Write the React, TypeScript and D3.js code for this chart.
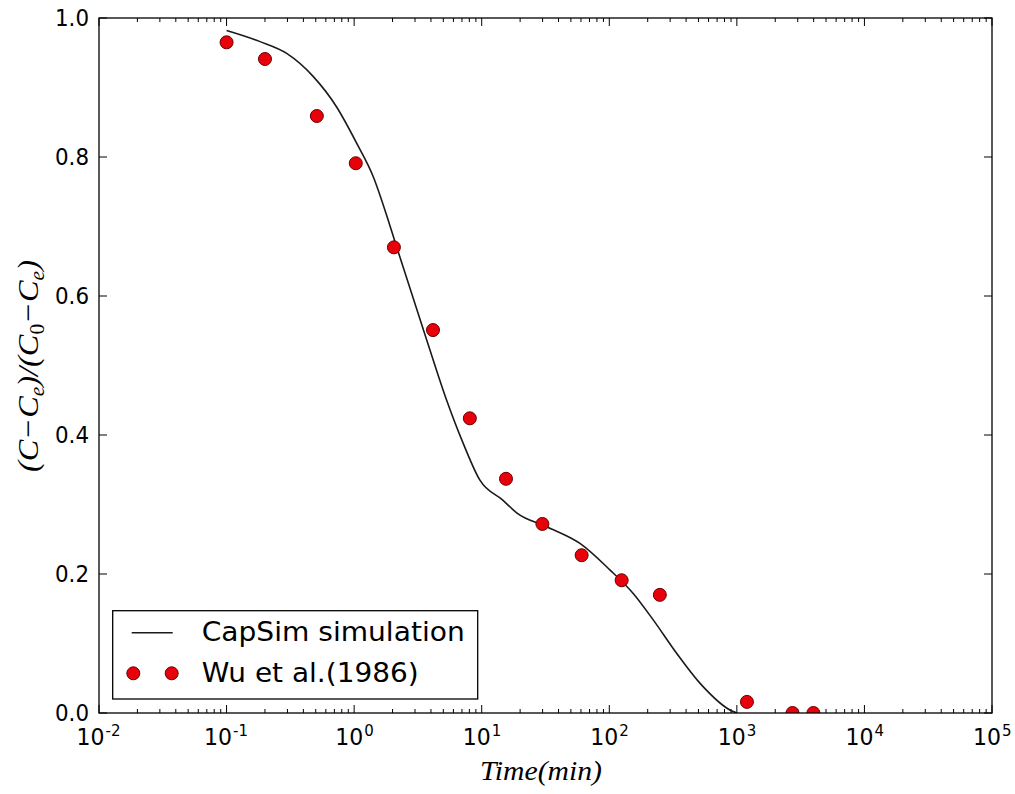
import React from "react";
import * as d3 from "d3";

// Simulation curve (CapSim)
const simTime = [0.1, 0.183, 0.296, 0.477, 0.729, 1.046, 1.41, 1.85, 2.15, 3.7, 5.31, 7.16, 9.68, 14.7, 18.8, 32.3, 58.9, 101, 154, 221, 337, 513, 935, 1000];
const simValue = [0.982, 0.966, 0.949, 0.916, 0.872, 0.82, 0.772, 0.709, 0.671, 0.537, 0.45, 0.388, 0.335, 0.306, 0.288, 0.268, 0.244, 0.206, 0.172, 0.134, 0.086, 0.043, 0.002, 0.0];

// Experimental data (Wu et al. 1986)
const obsTime = [0.1, 0.2, 0.51, 1.03, 2.05, 4.15, 8.07, 15.5, 29.9, 60.7, 125, 249, 1200, 2730, 3980];
const obsValue = [0.965, 0.941, 0.859, 0.791, 0.67, 0.551, 0.424, 0.337, 0.272, 0.227, 0.191, 0.17, 0.016, 0.0, 0.0];

const yTicks = [0, 0.2, 0.4, 0.6, 0.8, 1.0];
const xExponents = [-2, -1, 0, 1, 2, 3, 4, 5];

const W = 1015;
const H = 794;
const L = 99, R = 992, T = 18, B = 713;

export default function App() {
  const x = d3.scaleLog().domain([1e-2, 1e5]).range([L, R]);
  const y = d3.scaleLinear().domain([0, 1]).range([B, T]);

  const line = d3
    .line<number>()
    .x((_, i) => x(simTime[i]))
    .y((d) => y(d))
    .curve(d3.curveMonotoneX);

  const minor: number[] = [];
  for (let e = -2; e < 5; e++) {
    for (let k = 2; k <= 9; k++) minor.push(k * Math.pow(10, e));
  }

  const font = "'DejaVu Sans', sans-serif";
  const serif = "'Liberation Serif', 'DejaVu Serif', serif";

  return (
    <svg width={W} height={H} style={{ position: "absolute", left: 0, top: 0, background: "#fff" }}>
      <defs>
        <clipPath id="plotclip">
          <rect x={L} y={T} width={R - L} height={B - T} />
        </clipPath>
      </defs>
      <rect x={0} y={0} width={W} height={H} fill="#fff" />

      {/* minor ticks */}
      {minor.map((m, i) => (
        <g key={"mn" + i} stroke="#000" strokeWidth={1}>
          <line x1={x(m)} x2={x(m)} y1={B} y2={B - 4} />
          <line x1={x(m)} x2={x(m)} y1={T} y2={T + 4} />
        </g>
      ))}
      {/* major x ticks */}
      {xExponents.map((e) => (
        <g key={"mx" + e} stroke="#000" strokeWidth={1}>
          <line x1={x(Math.pow(10, e))} x2={x(Math.pow(10, e))} y1={B} y2={B - 8} />
          <line x1={x(Math.pow(10, e))} x2={x(Math.pow(10, e))} y1={T} y2={T + 8} />
        </g>
      ))}
      {/* major y ticks */}
      {yTicks.map((t) => (
        <g key={"my" + t} stroke="#000" strokeWidth={1}>
          <line x1={L} x2={L + 8} y1={y(t)} y2={y(t)} />
          <line x1={R} x2={R - 8} y1={y(t)} y2={y(t)} />
        </g>
      ))}

      {/* simulation line */}
      <path d={line(simValue) || ""} fill="none" stroke="#1a1a1a" strokeWidth={1.6} clipPath="url(#plotclip)" />

      {/* observed points */}
      <g clipPath="url(#plotclip)">
        {obsValue.map((v, i) => (
          <circle key={"p" + i} cx={x(obsTime[i])} cy={y(v)} r={6.5} fill="#e8000b" stroke="#6a0000" strokeWidth={1} />
        ))}
      </g>

      {/* frame */}
      <rect x={L} y={T} width={R - L} height={B - T} fill="none" stroke="#000" strokeWidth={1.3} />

      {/* y tick labels */}
      {yTicks.map((t) => (
        <text
          key={"yl" + t}
          x={89}
          y={y(t)}
          dy="0.36em"
          textAnchor="end"
          fontFamily={font}
          fontSize={23}
          textLength={34}
          lengthAdjust="spacingAndGlyphs"
          fill="#000"
        >
          {t.toFixed(1)}
        </text>
      ))}

      {/* x tick labels */}
      {xExponents.map((e) => {
        const cx = x(Math.pow(10, e));
        const sup = String(e);
        const supW = e < 0 ? 16 : 9;
        const total = 28 + 1 + supW;
        const x0 = cx - total / 2;
        return (
          <g key={"xl" + e} fontFamily={font} fill="#000">
            <text x={x0} y={745} fontSize={23} textLength={28} lengthAdjust="spacingAndGlyphs">
              10
            </text>
            <text x={x0 + 29} y={736} fontSize={15}>
              {sup}
            </text>
          </g>
        );
      })}

      {/* x axis label */}
      <text
        x={541}
        y={780}
        textAnchor="middle"
        fontFamily={serif}
        fontStyle="italic"
        fontSize={28}
        textLength={122}
        lengthAdjust="spacingAndGlyphs"
        fill="#000"
      >
        Time(min)
      </text>

      {/* y axis label */}
      <text
        transform={`translate(38,366) rotate(-90)`}
        textAnchor="middle"
        fontFamily={serif}
        fontStyle="italic"
        fontSize={30}
        textLength={212}
        lengthAdjust="spacingAndGlyphs"
        fill="#000"
      >
        <tspan>(C−C</tspan>
        <tspan dy={6} fontSize={20}>e</tspan>
        <tspan dy={-6}>)/(C</tspan>
        <tspan dy={6} fontSize={20} fontStyle="normal">0</tspan>
        <tspan dy={-6}>−C</tspan>
        <tspan dy={6} fontSize={20}>e</tspan>
        <tspan dy={-6}>)</tspan>
      </text>

      {/* legend */}
      <g>
        <rect x={112.7} y={610.7} width={365} height={88.3} fill="#fff" stroke="#000" strokeWidth={1.3} />
        <line x1={131.7} x2={172.7} y1={632.7} y2={632.7} stroke="#1a1a1a" strokeWidth={1.6} />
        <text x={201.7} y={641} fontFamily={font} fontSize={27} textLength={263} lengthAdjust="spacingAndGlyphs" fill="#000">
          CapSim simulation
        </text>
        <circle cx={133.3} cy={673.3} r={6.5} fill="#e8000b" stroke="#6a0000" strokeWidth={1} />
        <circle cx={171.7} cy={673.3} r={6.5} fill="#e8000b" stroke="#6a0000" strokeWidth={1} />
        <text x={201.7} y={682} fontFamily={font} fontSize={27} textLength={217} lengthAdjust="spacingAndGlyphs" fill="#000">
          Wu et al.(1986)
        </text>
      </g>
    </svg>
  );
}
